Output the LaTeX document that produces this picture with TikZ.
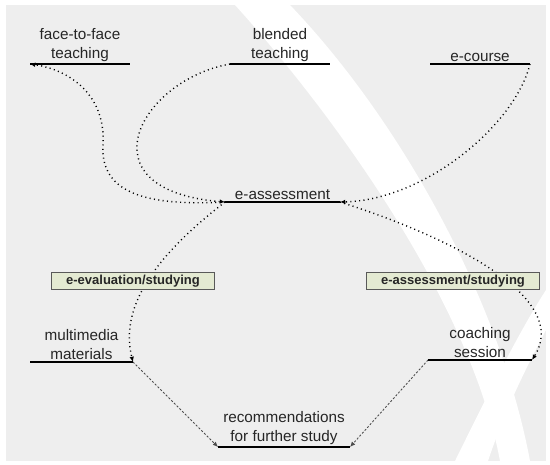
\documentclass[tikz,border=0pt]{standalone}
\usepackage{fontspec}
\setmainfont{Liberation Sans}
\usepackage{xcolor}
\usetikzlibrary{positioning,arrows.meta}
\definecolor{bggray}{HTML}{EEEEEE}
\definecolor{tagfill}{HTML}{E4EAD2}

\begin{document}
\begin{tikzpicture}[x=0.02cm,y=-0.02cm,
    topic/.style={anchor=south,align=center,minimum width=2cm,inner xsep=0pt,inner ysep=1.5pt,outer sep=0pt,
                  font=\fontsize{8.7}{10.8}\selectfont,text=black!85},
    tag/.style={draw=gray!70!black,fill=tagfill,minimum width=3.26cm,minimum height=0.34cm,inner sep=1pt,
                font=\fontsize{7.4}{9}\selectfont\bfseries,text=black!85},
    link/.style={line width=0.8pt,dash pattern=on 0.6pt off 1.9pt,-{Latex[length=3pt,width=2.6pt]}},
    feed/.style={line width=0.5pt,gray!60!black,dash pattern=on 1.2pt off 1pt,-{Latex[length=3pt,width=2.6pt]}}]
    \useasboundingbox (0,0) rectangle (550,465);
    \fill[bggray] (6,5) rectangle (546,461);
    \fill[white] (235,5) .. controls (330,110) and (470,300) .. (500,461) -- (530,461)
                 .. controls (500,300) and (400,120) .. (290,5) -- cycle;
    \fill[white] (455,461) .. controls (490,390) and (520,330) .. (546,290) -- (546,330)
                 .. controls (525,370) and (505,410) .. (488,461) -- cycle;

    \node[topic] (ftf) at (80,64) {face-to-face\\teaching};
    \node[topic] (bt) at (280,64) {blended\\teaching};
    \node[topic] (ec) at (480,64) {e-course};
    \node[topic,minimum width=2.3cm] (ea) at (282.5,202) {e-assessment};
    \node[topic,minimum width=2.06cm] (mm) at (81.5,362) {multimedia\\materials};
    \node[topic,minimum width=2.08cm] (cs) at (480,360) {coaching\\session};
    \node[topic,minimum width=2.64cm] (rfs) at (284,447) {recommendations\\for further study};

    \draw[link] (ea.south west) .. controls (150,206) and (100,195) .. (103,145)
                .. controls (106,95) and (70,70) .. (ftf.south west);
    \draw[link] (bt.south west) .. controls (140,80) and (80,190) .. (ea.south west);
    \draw[link] (ec.south east) .. controls (515,125) and (425,200) .. (ea.south east);
    \draw[link] (ea.south east) .. controls (460,240) and (570,300) .. (cs.south east);
    \draw[link] (ea.south west) .. controls (150,260) and (120,310) .. (mm.south east);
    \draw[feed] (mm.south east) -- (rfs.south west);
    \draw[feed] (cs.south west) -- (rfs.south east);

    \foreach \n in {ftf,bt,ec,ea,mm,cs,rfs}
        \draw[line width=1.1pt] (\n.south west) -- (\n.south east);

    \node[tag] (evs) at (133,281) {e-evaluation/studying};
    \node[tag,minimum width=3.46cm] (eas) at (453,281) {e-assessment/studying};
\end{tikzpicture}
\end{document}
